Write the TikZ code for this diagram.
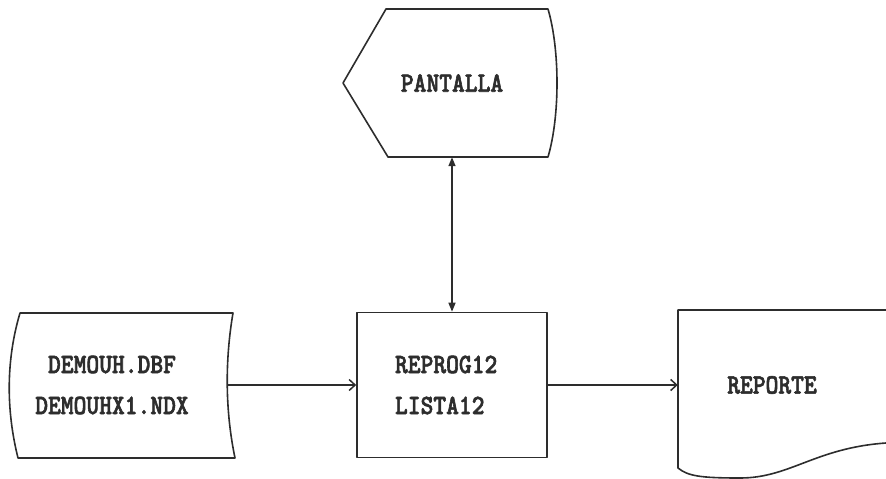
\documentclass[tikz,border=0pt]{standalone}
\usepackage{fontspec}
\newfontfamily\matriz[FakeStretch=0.87,FakeBold=2]{lmmonolt10-bold.otf}
\definecolor{tinta}{RGB}{45,45,45}
\usetikzlibrary{arrows.meta,positioning}

\begin{document}
\begin{tikzpicture}[x=1pt, y=-1pt,
    texto/.style={draw=none, align=center, text=tinta,
                  font=\fontsize{28}{41}\selectfont\matriz},
    borde/.style={draw=tinta, line width=1.6pt, line join=round},
    arrow/.style={-{Straight Barb[length=6pt,width=11pt]}, line width=1.5pt, tinta},
    dobleflecha/.style={{Triangle[length=9pt,width=7pt]}-{Triangle[length=9pt,width=7pt]}, line width=1.5pt, tinta}]

\useasboundingbox (0,0) rectangle (886,479);

\node[texto, minimum width=232pt, minimum height=145pt] (disco) at (112,385) {DEMOUH.DBF\\DEMOUHX1.NDX};
\node[texto, borde, minimum width=190pt, minimum height=145pt, text width=114pt,
      inner xsep=38pt, align=left] (prog) at (452,385) {REPROG12\\LISTA12};
\node[texto, minimum width=188pt, minimum height=150pt] (reporte) at (772,385) {REPORTE};
\node[texto, minimum width=150pt, minimum height=148pt] (pantalla) at (452,83) {PANTALLA};

% Contornos
\draw[borde] (20,313) -- (233,313) .. controls (225,360) and (225,410) .. (235,458)
    -- (18,458) .. controls (6,410) and (6,360) .. (20,313) -- cycle;
\draw[borde] (343,83) -- (386,9) -- (548,9) .. controls (560,50) and (560,116) .. (548,157)
    -- (388,157) -- cycle;
\draw[borde] (886,310) -- (678,310) -- (678,468) .. controls (688,476) and (700,478) .. (740,478)
    .. controls (790,478) and (815,448) .. (886,443);

\draw[arrow] (disco) -- (prog);
\draw[arrow] (prog) -- (reporte);
\draw[dobleflecha] (pantalla) -- (prog);
\end{tikzpicture}
\end{document}
